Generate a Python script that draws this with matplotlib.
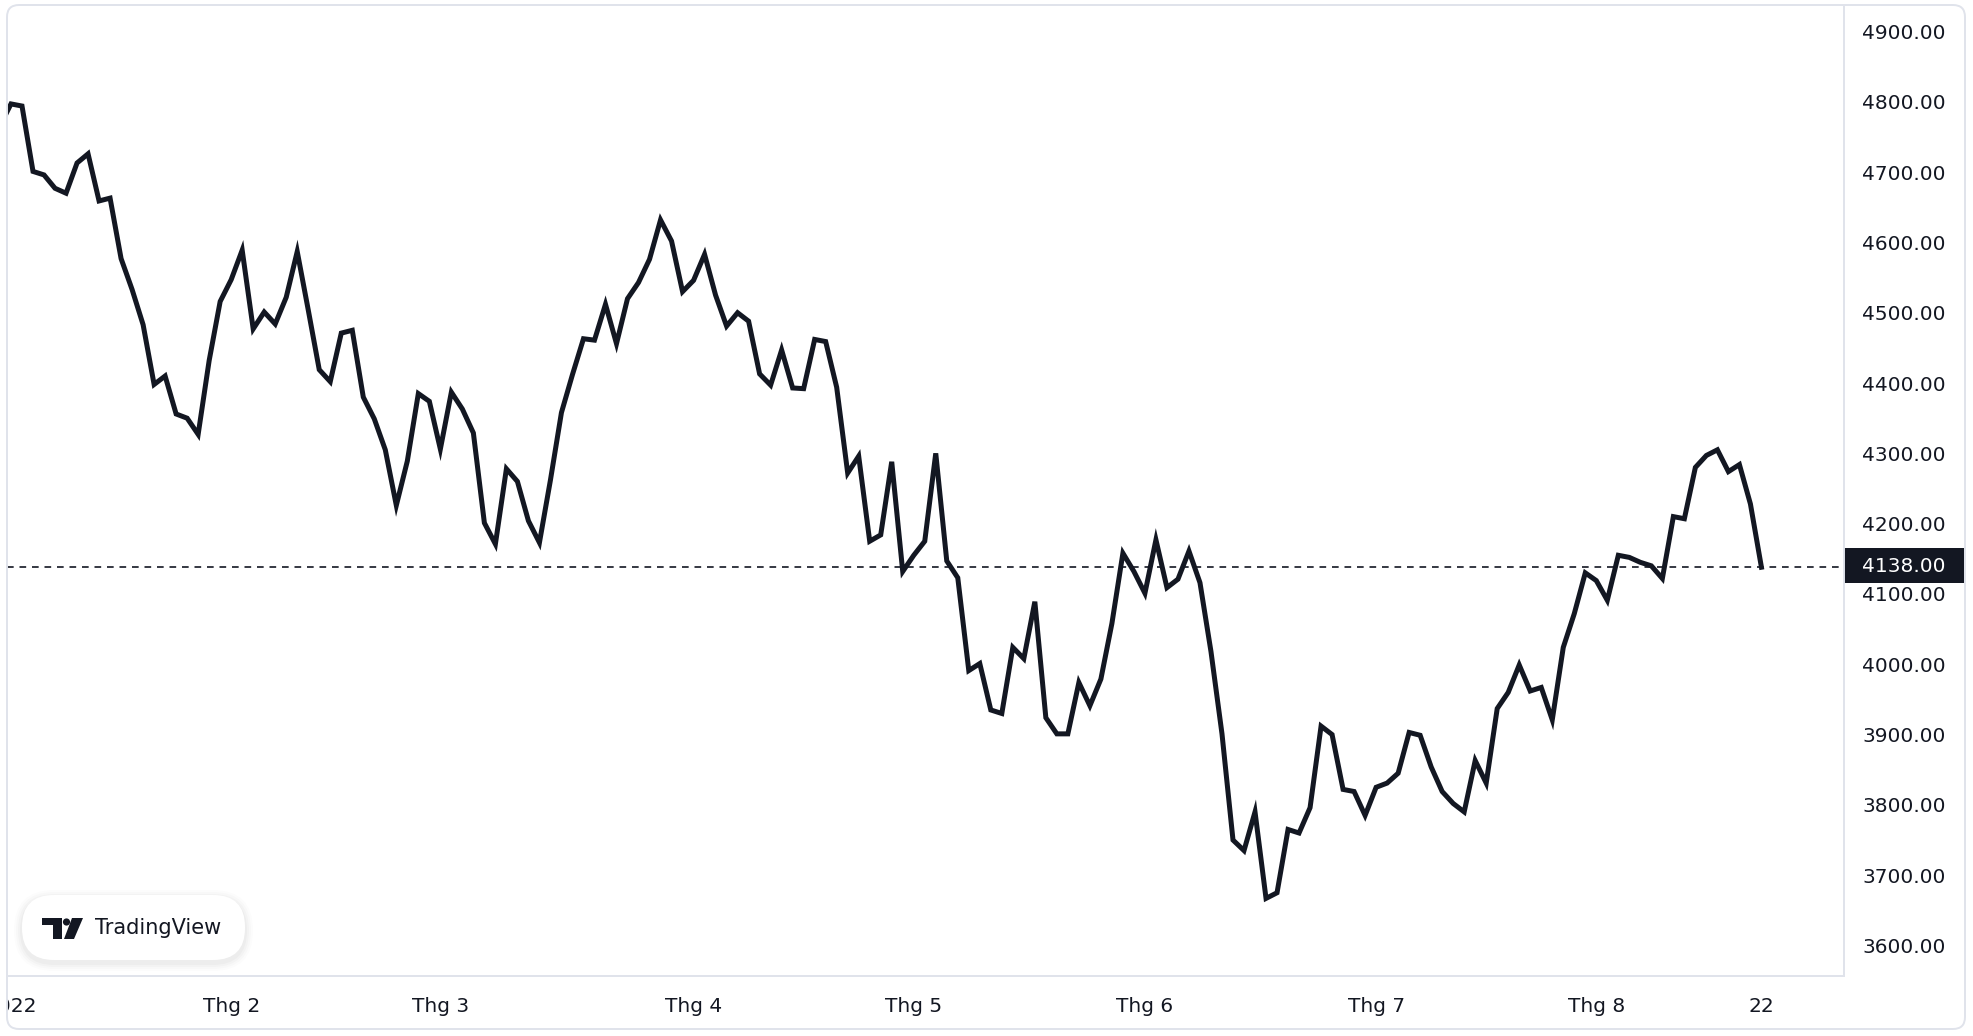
import numpy as np
import matplotlib
matplotlib.use("Agg")
import matplotlib.pyplot as plt
import matplotlib.patches as patches

# daily closes, 31 Dec 2021 .. 22 Aug 2022 (first point sits just left of the pane)
dates = [
    "2021-12-31",
    "2022-01-03", "2022-01-04", "2022-01-05", "2022-01-06", "2022-01-07", "2022-01-10", "2022-01-11",
    "2022-01-12", "2022-01-13", "2022-01-14", "2022-01-18", "2022-01-19", "2022-01-20", "2022-01-21",
    "2022-01-24", "2022-01-25", "2022-01-26", "2022-01-27", "2022-01-28", "2022-01-31",
    "2022-02-01", "2022-02-02", "2022-02-03", "2022-02-04", "2022-02-07", "2022-02-08", "2022-02-09",
    "2022-02-10", "2022-02-11", "2022-02-14", "2022-02-15", "2022-02-16", "2022-02-17", "2022-02-18",
    "2022-02-22", "2022-02-23", "2022-02-24", "2022-02-25", "2022-02-28",
    "2022-03-01", "2022-03-02", "2022-03-03", "2022-03-04", "2022-03-07", "2022-03-08", "2022-03-09",
    "2022-03-10", "2022-03-11", "2022-03-14", "2022-03-15", "2022-03-16", "2022-03-17", "2022-03-18",
    "2022-03-21", "2022-03-22", "2022-03-23", "2022-03-24", "2022-03-25", "2022-03-28", "2022-03-29",
    "2022-03-30", "2022-03-31",
    "2022-04-01", "2022-04-04", "2022-04-05", "2022-04-06", "2022-04-07", "2022-04-08", "2022-04-11",
    "2022-04-12", "2022-04-13", "2022-04-14", "2022-04-18", "2022-04-19", "2022-04-20", "2022-04-21",
    "2022-04-22", "2022-04-25", "2022-04-26", "2022-04-27", "2022-04-28", "2022-04-29",
    "2022-05-02", "2022-05-03", "2022-05-04", "2022-05-05", "2022-05-06", "2022-05-09", "2022-05-10",
    "2022-05-11", "2022-05-12", "2022-05-13", "2022-05-16", "2022-05-17", "2022-05-18", "2022-05-19",
    "2022-05-20", "2022-05-23", "2022-05-24", "2022-05-25", "2022-05-26", "2022-05-27", "2022-05-31",
    "2022-06-01", "2022-06-02", "2022-06-03", "2022-06-06", "2022-06-07", "2022-06-08", "2022-06-09",
    "2022-06-10", "2022-06-13", "2022-06-14", "2022-06-15", "2022-06-16", "2022-06-17", "2022-06-21",
    "2022-06-22", "2022-06-23", "2022-06-24", "2022-06-27", "2022-06-28", "2022-06-29", "2022-06-30",
    "2022-07-01", "2022-07-05", "2022-07-06", "2022-07-07", "2022-07-08", "2022-07-11", "2022-07-12",
    "2022-07-13", "2022-07-14", "2022-07-15", "2022-07-18", "2022-07-19", "2022-07-20", "2022-07-21",
    "2022-07-22", "2022-07-25", "2022-07-26", "2022-07-27", "2022-07-28", "2022-07-29",
    "2022-08-01", "2022-08-02", "2022-08-03", "2022-08-04", "2022-08-05", "2022-08-08", "2022-08-09",
    "2022-08-10", "2022-08-11", "2022-08-12", "2022-08-15", "2022-08-16", "2022-08-17", "2022-08-18",
    "2022-08-19", "2022-08-22",
]
closes = [
    4766,
    4797, 4794, 4701, 4696, 4677, 4670, 4713, 4726, 4659, 4663, 4577, 4533, 4483, 4398,
    4410, 4356, 4350, 4327, 4432, 4516,
    4547, 4589, 4477, 4501, 4484, 4522, 4587, 4504, 4419, 4402, 4471, 4475, 4380, 4349,
    4305, 4226, 4289, 4385, 4374,
    4306, 4387, 4363, 4329, 4201, 4171, 4278, 4260, 4204, 4173, 4262, 4358, 4412, 4463,
    4461, 4512, 4456, 4520, 4543, 4576, 4632, 4602, 4530,
    4546, 4583, 4525, 4481, 4500, 4488, 4413, 4397, 4447, 4393, 4392, 4462, 4459, 4394,
    4272, 4296, 4175, 4184, 4288, 4132,
    4155, 4175, 4300, 4147, 4123, 3991, 4001, 3935, 3930, 4024, 4008, 4089, 3924, 3901,
    3901, 3974, 3941, 3979, 4058, 4158, 4132,
    4101, 4177, 4109, 4121, 4161, 4116, 4018, 3901, 3750, 3735, 3790, 3667, 3675, 3765,
    3760, 3796, 3912, 3900, 3822, 3819, 3785,
    3825, 3831, 3845, 3903, 3899, 3854, 3819, 3802, 3790, 3863, 3831, 3937, 3960, 3999,
    3962, 3967, 3921, 4024, 4072, 4130,
    4119, 4091, 4155, 4152, 4145, 4140, 4122, 4210, 4207, 4280, 4297, 4305, 4274, 4284,
    4228, 4138,
]
last_price = 4138.00

tick_dates = ["2022-01-03", "2022-02-01", "2022-03-01", "2022-04-01", "2022-05-02",
              "2022-06-01", "2022-07-01", "2022-08-01", "2022-08-22"]
tick_labels = ["2022", "Thg 2", "Thg 3", "Thg 4", "Thg 5", "Thg 6", "Thg 7", "Thg 8", "22"]
price_ticks = np.arange(3600, 4901, 100)

INK = "#131722"
GRID = "#e0e3eb"
W, H = 1974, 1036

plt.rcParams["font.family"] = ["DejaVu Sans"]

fig = plt.figure(figsize=(W / 100, H / 100), dpi=100)
fig.patch.set_facecolor("white")

# bar index: 2022-01-03 -> 0
xs = np.arange(len(dates)) - 1
xlim = (-0.363, 166.5)

def px_rect(x0, y0, x1, y1):
    return [x0 / W, 1 - y1 / H, (x1 - x0) / W, (y1 - y0) / H]

ax = fig.add_axes(px_rect(7, 5, 1844, 976))
ax.plot(xs, closes, color=INK, lw=3.6, solid_joinstyle="miter", zorder=3)
ax.axhline(last_price, color=INK, lw=1.2, ls=(0, (4, 3.5)), zorder=2)
ax.set_xlim(*xlim)
ax.set_ylim(3556.6, 4937.7)
for s in ax.spines.values():
    s.set_visible(False)
ax.set_xticks([])
ax.yaxis.tick_right()
ax.set_yticks(price_ticks)
ax.set_yticklabels([f"{v:.2f}" for v in price_ticks])
ax.tick_params(axis="y", length=0, pad=13, labelsize=14.5, labelcolor=INK)
for lab in ax.get_yticklabels():
    lab.set_horizontalalignment("left")

# time scale
tax = fig.add_axes(px_rect(7, 976, 1844, 1029))
tax.set_xlim(*xlim)
tax.set_ylim(0, 1)
tax.axis("off")
for d, lab in zip(tick_dates, tick_labels):
    tax.text(dates.index(d) - 1, 0.43, lab, ha="center", va="center",
             fontsize=14.5, color=INK, clip_on=True)

# overlay: frame, badge, price label
ov = fig.add_axes([0, 0, 1, 1], zorder=10)
ov.set_xlim(0, W)
ov.set_ylim(H, 0)
ov.axis("off")
ov.patch.set_visible(False)

ov.add_patch(patches.FancyBboxPatch((7, 5), 1958, 1024, boxstyle="round,pad=0,rounding_size=12",
                                    fc="none", ec=GRID, lw=1.4))
ov.plot([1844, 1844], [5, 976], color=GRID, lw=1.4)
ov.plot([7, 1844], [976, 976], color=GRID, lw=1.4)

# price label
ov.add_patch(patches.Rectangle((1844, 548), 120, 35, fc=INK, ec="none"))
ov.text(1862, 566, f"{last_price:.2f}", color="white", fontsize=14.5, va="center", ha="left")

# TradingView badge
for k, a in enumerate([0.025, 0.02, 0.015, 0.01]):
    g = 2 + k * 2
    ov.add_patch(patches.FancyBboxPatch((22 - g, 896 - g + 2), 223 + 2 * g, 65 + 2 * g,
                                        boxstyle=f"round,pad=0,rounding_size={32 + g}",
                                        fc="black", ec="none", alpha=a))
ov.add_patch(patches.FancyBboxPatch((22, 895), 223, 65, boxstyle="round,pad=0,rounding_size=32",
                                    fc="white", ec="none"))
ov.add_patch(patches.Polygon([(42, 918), (62, 918), (62, 939), (53, 939), (53, 925), (42, 925)],
                             closed=True, fc=INK, ec="none"))
ov.add_patch(patches.Circle((66.5, 922), 3.6, fc=INK, ec="none"))
ov.add_patch(patches.Polygon([(72, 918), (83, 918), (74, 939), (64, 939)], closed=True, fc=INK, ec="none"))
ov.text(95, 928.5, "TradingView", color=INK, fontsize=15, va="center", ha="left")

fig.savefig("out.png", dpi=100, facecolor="white")
